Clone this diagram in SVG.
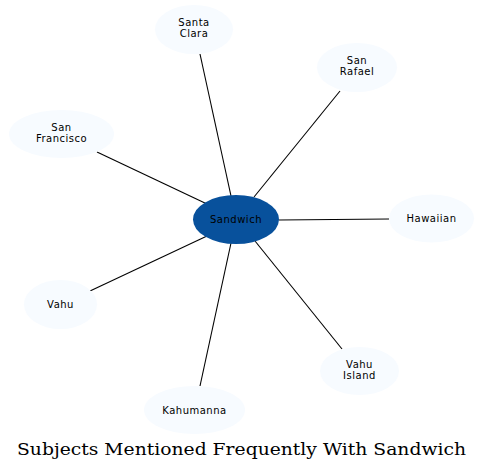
<svg xmlns="http://www.w3.org/2000/svg" width="483" height="470" viewBox="0 0 483 470">
<style>
.edge{stroke:#000;stroke-width:1.1;fill:none}
.node ellipse{fill:#f7fbff;stroke:none}
.node text{font-family:"DejaVu Sans",sans-serif;font-size:10px;letter-spacing:0.5px;fill:#000;text-anchor:middle}
#n_sandwich ellipse{fill:#08519c}
.title{font-family:"DejaVu Serif",serif;font-size:17px;fill:#000;text-anchor:middle}
</style>
<rect width="483" height="470" fill="#fff"/>
<g id="edges">
<line class="edge" x1="231" y1="196" x2="200" y2="54"/>
<line class="edge" x1="254" y1="197" x2="340" y2="91"/>
<line class="edge" x1="207" y1="204" x2="97" y2="152"/>
<line class="edge" x1="279" y1="220" x2="389" y2="219"/>
<line class="edge" x1="255" y1="241" x2="342" y2="349"/>
<line class="edge" x1="207" y1="236" x2="90" y2="291"/>
<line class="edge" x1="231" y1="243" x2="200" y2="386"/>
</g>
<g id="n_sandwich" class="node"><ellipse cx="236" cy="219.5" rx="43" ry="24.5"/><text x="236" y="223">Sandwich</text></g>
<g id="n_santa_clara" class="node"><ellipse cx="194" cy="29.5" rx="39" ry="24.5"/><text x="194" y="26">Santa</text><text x="194" y="37">Clara</text></g>
<g id="n_san_rafael" class="node"><ellipse cx="357" cy="67.5" rx="40" ry="24.5"/><text x="357" y="64">San</text><text x="357" y="75">Rafael</text></g>
<g id="n_san_francisco" class="node"><ellipse cx="61.5" cy="134" rx="52.5" ry="24"/><text x="61.5" y="131">San</text><text x="61.5" y="142">Francisco</text></g>
<g id="n_hawaiian" class="node"><ellipse cx="431.5" cy="218.5" rx="42.5" ry="24"/><text x="431.5" y="222">Hawaiian</text></g>
<g id="n_vahu" class="node"><ellipse cx="60.5" cy="304.5" rx="36.5" ry="24.5"/><text x="60.5" y="308">Vahu</text></g>
<g id="n_vahu_island" class="node"><ellipse cx="359.5" cy="371" rx="39.5" ry="24"/><text x="359.5" y="367.5">Vahu</text><text x="359.5" y="378.5">Island</text></g>
<g id="n_kahumanna" class="node"><ellipse cx="194.5" cy="410" rx="50.5" ry="24"/><text x="194.5" y="413.5">Kahumanna</text></g>
<text class="title" x="241.5" y="455" textLength="449" lengthAdjust="spacingAndGlyphs">Subjects Mentioned Frequently With Sandwich</text>
</svg>
